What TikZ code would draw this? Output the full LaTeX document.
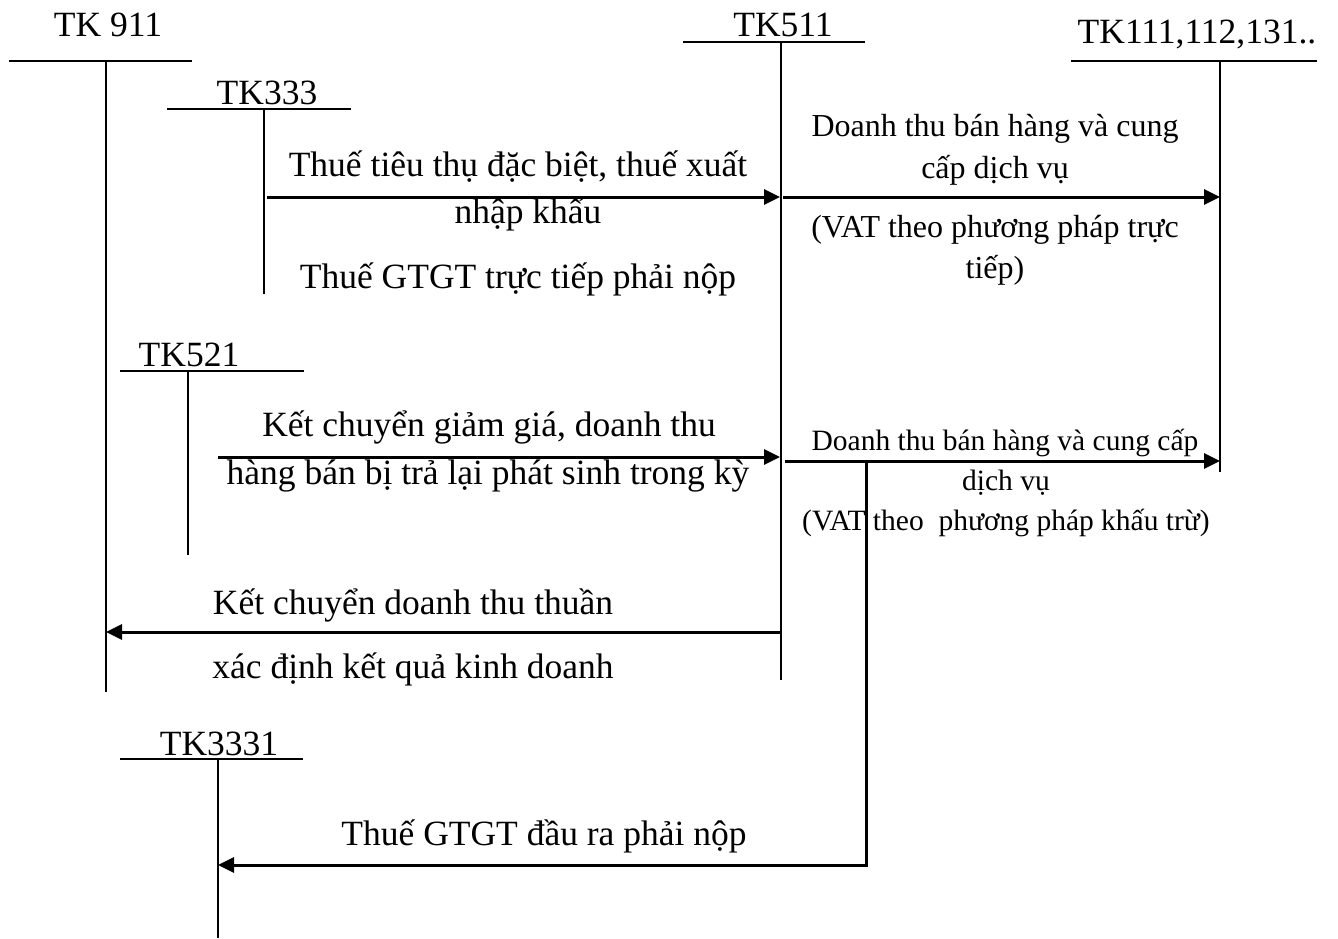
\documentclass[tikz,border=0pt]{standalone}
\usepackage{fontspec}
\setmainfont{Liberation Serif}
\usetikzlibrary{arrows.meta}
\begin{document}
\begin{tikzpicture}[x=1pt,y=-1pt,
  acct/.style={line width=2.4pt},
  flow/.style={line width=3pt,-{Triangle[length=16pt,width=15pt]}},
  big/.style={anchor=base,inner sep=0pt,font=\fontsize{35.5}{40}\selectfont},
  mid/.style={anchor=base,inner sep=0pt,font=\fontsize{32}{36}\selectfont},
  small/.style={anchor=base,inner sep=0pt,font=\fontsize{29.5}{34}\selectfont}]
\useasboundingbox (0,0) rectangle (1338,938);

% ---- T-accounts: title, bar and stem ----
\node[big] (t911) at (108,36) {TK 911};
\draw[acct] (9,61) -- (192,61);
\coordinate (s911t) at (106,61); \coordinate (s911b) at (106,692);
\draw[acct] (s911t) -- (s911b);

\node[big] (t333) at (267,104) {TK333};
\draw[acct] (167,109) -- (351,109);
\coordinate (s333t) at (264,109); \coordinate (s333b) at (264,294);
\draw[acct] (s333t) -- (s333b);

\node[big] (t511) at (783,36) {TK511};
\draw[acct] (683,42) -- (865,42);
\coordinate (s511t) at (781,42); \coordinate (s511b) at (781,680);
\draw[acct] (s511t) -- (s511b);

\node[big] (t111) at (1197,43) {TK111,112,131..};
\draw[acct] (1071,61) -- (1317,61);
\coordinate (s111t) at (1220,61); \coordinate (s111b) at (1220,472);
\draw[acct] (s111t) -- (s111b);

\node[big] (t521) at (189,366) {TK521};
\draw[acct] (120,371) -- (304,371);
\coordinate (s521t) at (188,371); \coordinate (s521b) at (188,555);
\draw[line width=1.8pt] (s521t) -- (s521b);

\node[big] (t3331) at (219,755) {TK3331};
\draw[acct] (120,759) -- (303,759);
\coordinate (s3331t) at (218,759); \coordinate (s3331b) at (218,938);
\draw[acct] (s3331t) -- (s3331b);

% ---- entries ----
\coordinate (a1s) at (267,197); \coordinate (a1e) at (780,197);
\draw[flow] (a1s) -- (a1e);
\node[big] (l1a) at (518,176) {Thuế tiêu thụ đặc biệt, thuế xuất};
\node[big] (l1b) at (528,223) {nhập khẩu};
\node[big] (l1c) at (518,288) {Thuế GTGT trực tiếp phải nộp};

\coordinate (a2s) at (783,197); \coordinate (a2e) at (1220,197);
\draw[flow] (a2s) -- (a2e);
\node[mid] (l2a) at (995,136) {Doanh thu bán hàng và cung};
\node[mid] (l2b) at (995,178) {cấp dịch vụ};
\node[mid] (l2c) at (995,237) {(VAT theo phương pháp trực};
\node[mid] (l2d) at (995,278) {tiếp)};

\coordinate (a3s) at (218,457); \coordinate (a3e) at (780,457);
\draw[flow] (a3s) -- (a3e);
\node[big] (l3a) at (489,436) {Kết chuyển giảm giá, doanh thu};
\node[big] (l3b) at (488,484) {hàng bán bị trả lại phát sinh trong kỳ};

\coordinate (a4s) at (785,461); \coordinate (a4e) at (1220,461);
\draw[flow] (a4s) -- (a4e);
\node[small] (l4a) at (1005,450) {Doanh thu bán hàng và cung cấp};
\node[small] (l4b) at (1006,490) {dịch vụ};
\node[small] (l4c) at (1006,530) {(VAT theo~ phương pháp khấu trừ)};

\coordinate (a5s) at (781,632); \coordinate (a5e) at (106,632);
\draw[flow] (a5s) -- (a5e);
\node[big] (l5a) at (413,614) {Kết chuyển doanh thu thuần};
\node[big] (l5b) at (413,678) {xác định kết quả kinh doanh};

\coordinate (a6s) at (866,461); \coordinate (a6m) at (866,865); \coordinate (a6e) at (218,865);
\draw[flow] (a6s) -- (a6m) -- (a6e);
\node[big] (l6a) at (544,845) {Thuế GTGT đầu ra phải nộp};
\end{tikzpicture}
\end{document}
